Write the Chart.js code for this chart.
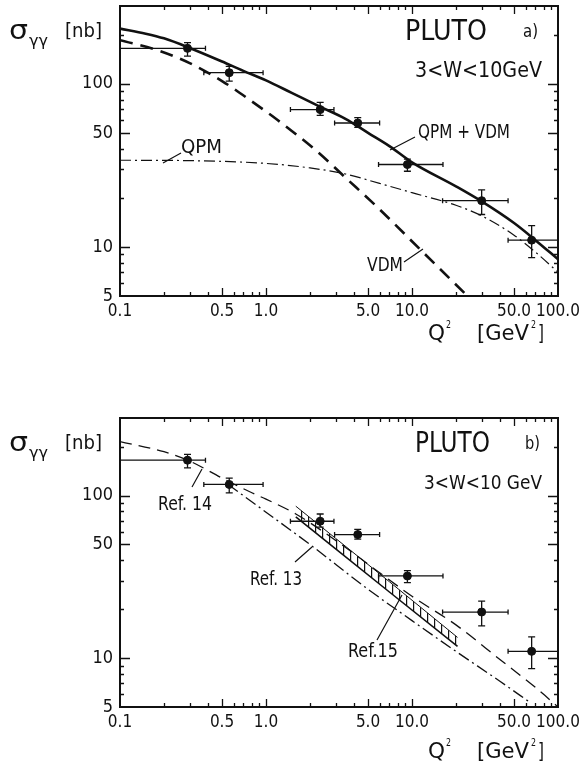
<!DOCTYPE html>
<html>
<head>
<meta charset="utf-8">
<script src="https://cdn.jsdelivr.net/npm/chart.js@4.4.1/dist/chart.umd.min.js"></script>
<style>
    html, body { margin: 0; padding: 0; background: #fff; }
    #wrap { position: relative; width: 581px; height: 766px; }
    canvas { position: absolute; left: 0; }
</style>
</head>
<body>
<div id="wrap">
    <canvas id="chartA" width="581" height="360" style="top:0"></canvas>
    <canvas id="chartB" width="581" height="406" style="top:360px"></canvas>
</div>
<script>
// --- PLUTO data points (same in both panels) ---
const q2       = [0.29, 0.56, 2.35, 4.25, 9.3, 30, 66];
const sigma    = [165, 117, 69.5, 57.5, 32, 19.2, 11.0];
const q2Lo     = [0.1, 0.375, 1.47, 2.95, 5.9, 16.2, 45.5];
const q2Hi     = [0.385, 0.955, 2.92, 6.0, 16.3, 45.5, 100];
const sigmaLo  = [148, 104, 64, 54, 29.1, 15.8, 8.6];
const sigmaHi  = [179, 128, 77, 62, 34.5, 22.4, 13.5];

// --- Panel a curves ---
const sumQ2    = [0.1, 0.15, 0.2, 0.3, 0.5, 0.7, 1.0, 1.5, 2.3, 3.5, 5, 7, 10, 20, 30, 50, 70, 100];
const sumSigma = [218, 203, 190, 166, 137, 120, 105, 88, 73, 61, 50, 41.5, 33, 23.5, 19, 14, 11.0, 8.4];
const vdmQ2    = [0.1, 0.18, 0.3, 0.5, 0.8, 1.2, 2.2, 3.6, 6, 12, 24];
const vdmSigma = [185, 161, 134, 104, 78, 60, 39, 26, 17, 9.2, 5];
const qpmQ2    = [0.1, 0.3, 1.0, 2, 3.5, 6, 10, 20, 30, 50, 70, 100];
const qpmSigma = [34, 33.8, 32.5, 30.5, 28, 24.5, 21.5, 18, 15.5, 11.8, 9.3, 7.0];

// --- Panel b curves ---
const ref14Q2    = [0.1, 0.2, 0.3, 0.5, 0.8, 1.0, 1.6, 3, 6, 10, 20, 40, 70, 100];
const ref14Sigma = [215, 186, 163, 128, 104, 95, 77, 53, 33.5, 24, 16, 9.8, 6.6, 5.0];
const ref13Q2    = [0.55, 1, 2, 5, 10, 20, 40, 65];
const ref13Sigma = [117, 79, 50, 26.5, 17, 11, 7.2, 5.3];
const ref15Q2    = [1.6, 3, 7, 20.5];
const ref15Upper = [86, 54.5, 29.5, 13.4];
const ref15Lower = [74, 47, 25.5, 11.8];

// --- Axis ticks ---
const xTickValues = [0.1, 0.5, 1, 5, 10, 50, 100];
const xTickLabels = ['0.1', '0.5', '1.0', '5.0', '10.0', '50.0', '100.0'];
const yTickValues = [5, 10, 50, 100];
const xMinor = [0.2, 0.3, 0.4, 0.5, 0.6, 0.7, 0.8, 0.9, 1, 2, 3, 4, 5, 6, 7, 8, 9, 10, 20, 30, 40, 50, 60, 70, 80, 90];
const yMinor = [6, 7, 8, 9, 10, 20, 30, 40, 50, 60, 70, 80, 90, 100, 200];

const ink = '#111';
const FONT = '"DejaVu Sans Condensed", "Liberation Sans Narrow", "DejaVu Sans", sans-serif';
Chart.defaults.font.family = FONT;
Chart.defaults.color = ink;

const pts = (xs, ys) => xs.map((x, i) => ({ x: x, y: ys[i] }));

function fitText(ctx, text, x, y, w, size) {
    ctx.font = size + 'px ' + FONT;
    const m = ctx.measureText(text).width;
    ctx.save();
    ctx.translate(x, y);
    ctx.scale(w / m, 1);
    ctx.textBaseline = 'middle';
    ctx.textAlign = 'left';
    ctx.fillText(text, 0, 0);
    ctx.restore();
}

// frame + inward ticks on all four sides
const frameTicks = {
    id: 'frameTicks',
    afterDraw(chart) {
        const { ctx, chartArea: a, scales: { x, y } } = chart;
        ctx.save();
        ctx.strokeStyle = ink;
        ctx.lineWidth = 1.3;
        ctx.beginPath();
        xMinor.forEach(v => {
            const px = Math.round(x.getPixelForValue(v)) + 0.5;
            const len = xTickValues.includes(v) ? 8 : 4;
            ctx.moveTo(px, a.bottom); ctx.lineTo(px, a.bottom - len);
            ctx.moveTo(px, a.top); ctx.lineTo(px, a.top + len);
        });
        yMinor.forEach(v => {
            const py = Math.round(y.getPixelForValue(v)) + 0.5;
            const len = yTickValues.includes(v) ? 10 : 4;
            ctx.moveTo(a.left, py); ctx.lineTo(a.left + len, py);
            ctx.moveTo(a.right, py); ctx.lineTo(a.right - len, py);
        });
        ctx.stroke();
        ctx.lineWidth = 2;
        ctx.strokeRect(a.left, a.top, a.right - a.left, a.bottom - a.top);
        ctx.restore();
    }
};

// horizontal and vertical error bars for the data points
const errorBars = {
    id: 'errorBars',
    afterDatasetsDraw(chart) {
        const { ctx, chartArea: a, scales: { x, y } } = chart;
        ctx.save();
        ctx.beginPath();
        ctx.rect(a.left, a.top, a.right - a.left, a.bottom - a.top);
        ctx.clip();
        ctx.strokeStyle = ink;
        ctx.lineWidth = 1.3;
        ctx.beginPath();
        q2.forEach((q, i) => {
            const px = x.getPixelForValue(q), py = y.getPixelForValue(sigma[i]);
            const x0 = x.getPixelForValue(q2Lo[i]), x1 = x.getPixelForValue(q2Hi[i]);
            const y0 = y.getPixelForValue(sigmaLo[i]), y1 = y.getPixelForValue(sigmaHi[i]);
            ctx.moveTo(x0, py); ctx.lineTo(x1, py);
            ctx.moveTo(x0, py - 2.5); ctx.lineTo(x0, py + 2.5);
            ctx.moveTo(x1, py - 2.5); ctx.lineTo(x1, py + 2.5);
            ctx.moveTo(px, y0); ctx.lineTo(px, y1);
            ctx.moveTo(px - 3.5, y0); ctx.lineTo(px + 3.5, y0);
            ctx.moveTo(px - 3.5, y1); ctx.lineTo(px + 3.5, y1);
        });
        ctx.stroke();
        ctx.restore();
    }
};

// panel texts, leader lines, axis titles
const notes = {
    id: 'notes',
    afterDraw(chart, args, opts) {
        const ctx = chart.ctx;
        const a = chart.chartArea;
        ctx.save();
        ctx.fillStyle = ink;
        ctx.strokeStyle = ink;
        ctx.lineWidth = 1.2;
        (opts.labels || []).forEach(l => fitText(ctx, l.t, l.x, l.y, l.w, l.s));
        ctx.beginPath();
        (opts.leaders || []).forEach(p => { ctx.moveTo(p[0], p[1]); ctx.lineTo(p[2], p[3]); });
        ctx.stroke();

        // y title: sigma_gamma-gamma [nb]
        const ty = a.top + 26;
        fitText(ctx, 'σ', 9, ty, 19, 27);
        fitText(ctx, 'γγ', 29, ty + 10, 19, 16);
        fitText(ctx, '[nb]', 65, ty, 37, 20);

        // x title: Q^2 [GeV^2]
        const tx = a.bottom + opts.titleGap;
        fitText(ctx, 'Q', 428, tx, 17, 21);
        fitText(ctx, '2', 446, tx - 10, 5, 11);
        fitText(ctx, '[GeV', 477, tx, 52, 21);
        fitText(ctx, '2', 531, tx - 10, 5, 11);
        fitText(ctx, ']', 538, tx, 6, 21);
        ctx.restore();
    }
};

function hatch() {
    const c = document.createElement('canvas');
    c.width = 7; c.height = 8;
    const g = c.getContext('2d');
    g.fillStyle = ink;
    g.fillRect(0, 0, 1.2, 8);
    return g.createPattern(c, 'repeat');
}

function curve(data, width, dash) {
    return {
        data: data,
        borderColor: ink,
        borderWidth: width,
        borderDash: dash,
        pointRadius: 0,
        fill: false,
        cubicInterpolationMode: 'monotone',
        order: 2
    };
}

const pointSet = {
    data: pts(q2, sigma),
    showLine: false,
    pointRadius: 4,
    pointBackgroundColor: ink,
    pointBorderColor: ink,
    order: 0
};

// plot box: left 120, right 558; bottom given per panel
function makePanel(id, height, top, bottom, datasets, pluginOpts) {
    const xAxisH = height - bottom;
    return new Chart(document.getElementById(id), {
        type: 'line',
        data: { datasets: datasets },
        options: {
            responsive: false,
            animation: false,
            layout: { padding: { top: top, right: 23, left: 0, bottom: 0 } },
            plugins: { legend: { display: false }, tooltip: { enabled: false }, notes: pluginOpts },
            scales: {
                x: {
                    type: 'logarithmic', min: 0.1, max: 100,
                    grid: { display: false, drawTicks: false },
                    border: { display: false },
                    afterBuildTicks: s => { s.ticks = xTickValues.map(v => ({ value: v })); },
                    afterFit: s => { s.height = xAxisH; s.paddingLeft = 0; s.paddingRight = 0; },
                    ticks: {
                        autoSkip: false, maxRotation: 0, padding: 5,
                        font: { size: 17 }, color: ink,
                        callback: v => xTickLabels[xTickValues.indexOf(v)]
                    }
                },
                y: {
                    type: 'logarithmic', min: 5, max: 300,
                    grid: { display: false, drawTicks: false },
                    border: { display: false },
                    afterBuildTicks: s => { s.ticks = yTickValues.map(v => ({ value: v })); },
                    afterFit: s => { s.width = 120; s.paddingTop = 0; s.paddingBottom = 0; },
                    ticks: { padding: 7, font: { size: 18 }, color: ink, callback: v => String(v) }
                }
            }
        },
        plugins: [frameTicks, errorBars, notes]
    });
}

// Panel a
makePanel('chartA', 360, 6, 296, [
    curve(pts(sumQ2, sumSigma), 2.6, []),
    curve(pts(vdmQ2, vdmSigma), 2.6, [13, 8]),
    curve(pts(qpmQ2, qpmSigma), 1.2, [11, 4, 2, 4]),
    pointSet
], {
    titleGap: 39,
    labels: [
        { t: 'PLUTO', x: 405, y: 32, w: 82, s: 29 },
        { t: 'a)', x: 523, y: 32, w: 15, s: 18 },
        { t: '3<W<10GeV', x: 415, y: 72, w: 127, s: 21 },
        { t: 'QPM', x: 181, y: 148, w: 41, s: 19 },
        { t: 'QPM + VDM', x: 418, y: 133, w: 92, s: 19 },
        { t: 'VDM', x: 367, y: 266, w: 36, s: 19 }
    ],
    leaders: [[163, 163, 181, 153], [390, 150, 415, 137], [404, 262, 423, 249]]
});

// Panel b
const band = hatch();
makePanel('chartB', 406, 58, 347, [
    curve(pts(ref14Q2, ref14Sigma), 1.3, [12, 7]),
    curve(pts(ref13Q2, ref13Sigma), 1.3, [12, 4, 2, 4]),
    Object.assign(curve(pts(ref15Q2, ref15Upper), 1, []), { cubicInterpolationMode: 'default', tension: 0 }),
    Object.assign(curve(pts(ref15Q2, ref15Lower), 1.6, []), { cubicInterpolationMode: 'default', tension: 0, fill: '-1', backgroundColor: band }),
    Object.assign({}, pointSet, { data: pts(q2, sigma) })
], {
    titleGap: 46,
    labels: [
        { t: 'PLUTO', x: 415, y: 84, w: 75, s: 29 },
        { t: 'b)', x: 525, y: 84, w: 15, s: 18 },
        { t: '3<W<10 GeV', x: 424, y: 124, w: 118, s: 20 },
        { t: 'Ref. 14', x: 158, y: 145, w: 54, s: 19 },
        { t: 'Ref. 13', x: 250, y: 220, w: 52, s: 19 },
        { t: 'Ref.15', x: 348, y: 292, w: 50, s: 19 }
    ],
    leaders: [[192, 127, 202, 109], [295, 202, 312, 187], [377, 280, 402, 235]]
});
</script>
</body>
</html>
